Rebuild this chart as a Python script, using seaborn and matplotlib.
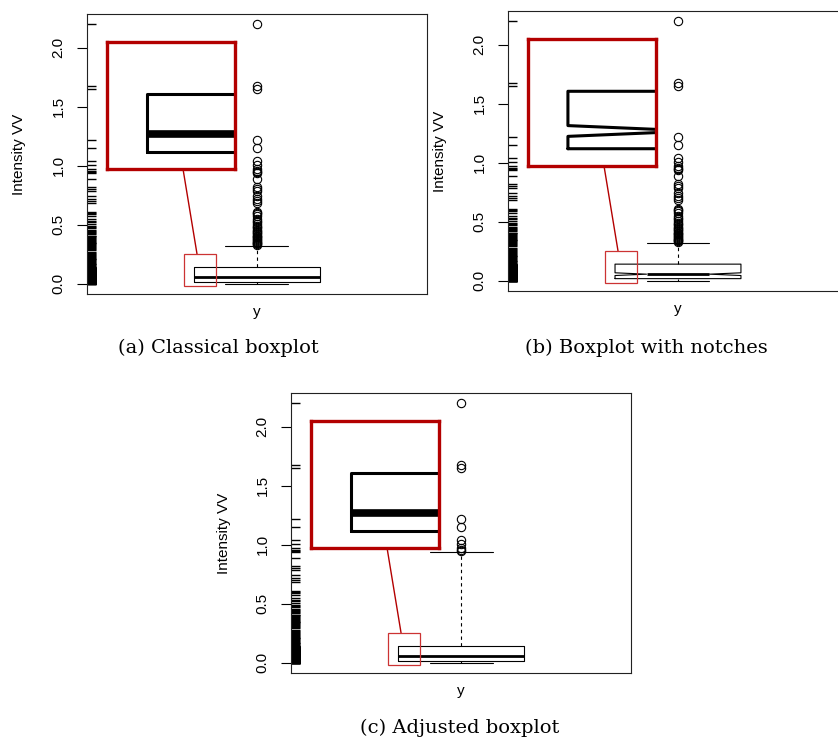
import numpy as np
import seaborn as sns
import matplotlib.pyplot as plt
from matplotlib.patches import Rectangle, ConnectionPatch

# intensity VV values, sorted
lowest_quarter = [0.000, 0.000, 0.000, 0.000, 0.001, 0.001, 0.001, 0.001, 0.002, 0.002,
                  0.002, 0.002, 0.003, 0.003, 0.003, 0.003, 0.004, 0.004, 0.004, 0.004,
                  0.005, 0.005, 0.005, 0.005, 0.006, 0.006, 0.006, 0.006, 0.007, 0.007,
                  0.007, 0.007, 0.008, 0.008, 0.008, 0.008, 0.009, 0.009, 0.009, 0.009,
                  0.010, 0.010, 0.010, 0.010, 0.011, 0.011, 0.011, 0.011, 0.012, 0.012,
                  0.012, 0.012, 0.013, 0.013, 0.013, 0.013, 0.014, 0.014, 0.014, 0.014,
                  0.015, 0.015, 0.015, 0.015, 0.016, 0.016, 0.016, 0.016, 0.017, 0.017]
second_quarter = [0.017, 0.018, 0.018, 0.019, 0.019, 0.020, 0.020, 0.021, 0.021, 0.022,
                  0.022, 0.023, 0.023, 0.024, 0.024, 0.025, 0.025, 0.026, 0.026, 0.027,
                  0.027, 0.028, 0.028, 0.029, 0.029, 0.030, 0.030, 0.031, 0.031, 0.032,
                  0.032, 0.033, 0.033, 0.034, 0.034, 0.035, 0.035, 0.036, 0.036, 0.037,
                  0.037, 0.038, 0.038, 0.039, 0.039, 0.040, 0.040, 0.041, 0.042, 0.042,
                  0.043, 0.043, 0.044, 0.045, 0.045, 0.046, 0.046, 0.047, 0.048, 0.048,
                  0.049, 0.050, 0.050, 0.051, 0.051, 0.052, 0.052, 0.053, 0.053, 0.054]
third_quarter = [0.056, 0.057, 0.058, 0.060, 0.061, 0.062, 0.063, 0.064, 0.066, 0.067,
                 0.068, 0.069, 0.070, 0.072, 0.073, 0.074, 0.075, 0.076, 0.078, 0.079,
                 0.080, 0.081, 0.082, 0.084, 0.085, 0.086, 0.087, 0.088, 0.090, 0.091,
                 0.092, 0.093, 0.094, 0.096, 0.097, 0.098, 0.099, 0.100, 0.102, 0.103,
                 0.104, 0.105, 0.106, 0.108, 0.109, 0.110, 0.111, 0.112, 0.114, 0.115,
                 0.116, 0.117, 0.118, 0.120, 0.121, 0.122, 0.123, 0.124, 0.126, 0.127,
                 0.128, 0.129, 0.131, 0.132, 0.133, 0.134, 0.135, 0.136, 0.138, 0.139]
upper_quarter = [0.143, 0.150, 0.156, 0.163, 0.170, 0.177, 0.184, 0.191, 0.198, 0.205,
                 0.213, 0.221, 0.229, 0.237, 0.245, 0.254, 0.263, 0.272, 0.281, 0.291,
                 0.301, 0.311, 0.322,
                 0.330, 0.336, 0.342, 0.348, 0.355, 0.362, 0.369, 0.376, 0.384, 0.392,
                 0.400, 0.408, 0.417, 0.426, 0.436, 0.446, 0.457, 0.468, 0.480, 0.492,
                 0.505, 0.520, 0.535, 0.552, 0.570, 0.590, 0.600, 0.610, 0.680, 0.700,
                 0.720, 0.740, 0.785, 0.800, 0.820, 0.890, 0.936, 0.945, 0.955, 0.970,
                 1.010, 1.040, 1.150, 1.220, 1.650, 1.680, 2.200]

intensity = np.array(lowest_quarter + second_quarter + third_quarter + upper_quarter)

yticks = [0.0, 0.5, 1.0, 1.5, 2.0]
ytick_labels = ['0.0', '0.5', '1.0', '1.5', '2.0']
captions = ['(a) Classical boxplot', '(b) Boxplot with notches', '(c) Adjusted boxplot']

# upper fence of the adjusted boxplot
adjusted_fence = 0.94
q1, q3 = np.percentile(intensity, [25, 75])
whis_adjusted = (adjusted_fence - q3) / (q3 - q1)

sns.set_style('white')
plt.rcParams['font.family'] = ['Liberation Sans', 'DejaVu Sans']
plt.rcParams['text.color'] = 'black'
plt.rcParams['axes.labelcolor'] = 'black'
plt.rcParams['ytick.color'] = 'black'

dark_red = '#b30000'
light_red = '#cc3333'


def draw_box(ax, whis, notch, lw, med_lw):
    sns.boxplot(y=intensity, ax=ax, whis=whis, notch=notch, width=0.8,
                fill=False, color='black', linecolor='black', linewidth=lw,
                fliersize=6,
                medianprops={'linewidth': med_lw},
                whiskerprops={'linestyle': (0, (3, 3))},
                capprops={'linestyle': '-'},
                flierprops={'markeredgewidth': 0.8, 'markeredgecolor': 'black'})


def panel(rect, whis, notch):
    ax = fig.add_axes(rect)
    draw_box(ax, whis, notch, 0.8, 2.0)
    sns.rugplot(y=intensity, ax=ax, height=0.027, color='black',
                linewidth=1.0, expand_margins=False)
    ax.set_xlim(-1.08, 1.08)
    ax.set_ylim(-0.088, 2.288)
    ax.set_xticks([])
    ax.set_yticks(yticks)
    ax.set_yticklabels(ytick_labels, rotation=90, va='center', fontsize=11)
    ax.tick_params(axis='y', left=True, direction='out', length=7, width=0.8, pad=8.5)
    ax.set_xlabel('y', fontsize=11, labelpad=8)
    ax.set_ylabel('Intensity VV', fontsize=11, labelpad=18)
    for s in ax.spines.values():
        s.set_linewidth(0.8)
        s.set_color('#222222')

    # zoomed view of the lower-left part of the box
    axin = ax.inset_axes([0.0588, 0.4464, 0.3765, 0.4536])
    draw_box(axin, whis, notch, 2.2, 5.5)
    axin.set_xlim(-0.4635, -0.26)
    axin.set_ylim(-0.02, 0.252)
    axin.set(xticks=[], yticks=[], xlabel='', ylabel='')
    for s in axin.spines.values():
        s.set_color(dark_red)
        s.set_linewidth(2.4)
    ax.add_patch(Rectangle((-0.4635, -0.02), 0.2035, 0.272, fill=False,
                           ec=light_red, lw=0.9, zorder=4))
    con = ConnectionPatch(xyA=(-0.381, 0.252), coordsA=ax.transData,
                          xyB=(0.594, 0), coordsB=axin.transAxes,
                          color=dark_red, lw=1.0)
    ax.add_artist(con)
    return ax


fig = plt.figure(figsize=(8.38, 7.42), dpi=100)

panel([0.1038, 0.6038, 0.4057, 0.3774], 1.5, False)
panel([0.6062, 0.6078, 0.4057, 0.3774], 1.5, True)
panel([0.3473, 0.0930, 0.4057, 0.3774], whis_adjusted, False)

cap_kw = dict(ha='center', va='center', family='DejaVu Serif', fontsize=14,
              color='black')
fig.text(0.260, 1 - 348 / 742, captions[0], **cap_kw)
fig.text(0.771, 1 - 348 / 742, captions[1], **cap_kw)
fig.text(0.549, 1 - 728 / 742, captions[2], **cap_kw)

fig.savefig('out.png', dpi=100)
